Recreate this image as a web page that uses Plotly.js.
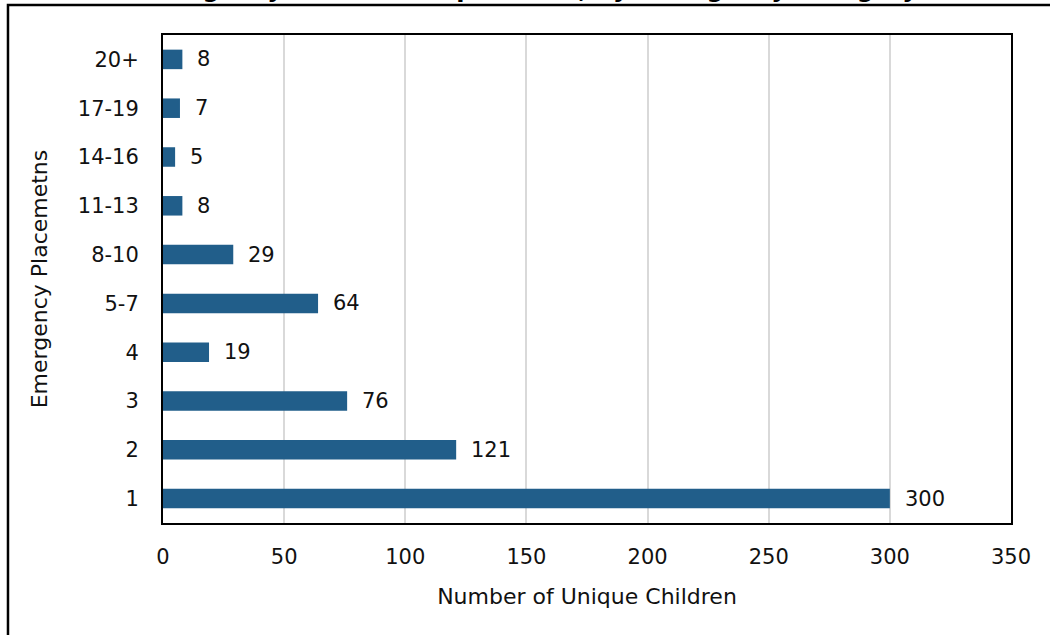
<!DOCTYPE html>
<html>
<head>
<meta charset="utf-8">
<script src="https://cdn.plot.ly/plotly-3.0.1.min.js"></script>
<style>html,body{margin:0;padding:0;background:#fff;}#chart{width:1050px;height:635px;}</style>
</head>
<body>
<div id="chart"></div>
<script>
const categories = ["1", "2", "3", "4", "5-7", "8-10", "11-13", "14-16", "17-19", "20+"];
const counts = [300, 121, 76, 19, 64, 29, 8, 5, 7, 8];
const titleText = "Emergency Placements per Child, by Emergency Category";
const xTitle = "Number of Unique Children";
const yTitle = "Emergency Placemetns";

const FONT = "'DejaVu Sans', 'Noto Sans', sans-serif";

const trace = {
  type: "bar",
  orientation: "h",
  x: counts,
  y: categories,
  marker: {color: "#215e8a"},
  hoverinfo: "none"
};

const labelAnnotations = counts.map((v, i) => ({
  x: v, y: i, xref: "x", yref: "y",
  text: String(v), showarrow: false,
  xanchor: "left", yanchor: "middle", xshift: 13,
  font: {family: FONT, size: 21, color: "#111"}
}));

const titleAnnotation = {
  xref: "paper", yref: "paper", x: 0.427, y: 1.062,
  xanchor: "center", yanchor: "bottom",
  text: "<b>" + titleText + "</b>", showarrow: false,
  font: {family: FONT, size: 24, color: "#000"}
};

const layout = {
  width: 1050,
  height: 635,
  margin: {l: 163, r: 39, t: 35, b: 112},
  paper_bgcolor: "#fff",
  plot_bgcolor: "#fff",
  showlegend: false,
  bargap: 0.6,
  font: {family: FONT, color: "#111"},
  xaxis: {
    range: [0, 350],
    tick0: 0, dtick: 50,
    showgrid: true, gridcolor: "#d9d9d9", gridwidth: 2,
    zeroline: false,
    showline: true, linecolor: "#000", linewidth: 2, mirror: true,
    ticks: "outside", ticklen: 14, tickcolor: "rgba(0,0,0,0)",
    tickfont: {family: FONT, size: 21, color: "#111"},
    title: {text: xTitle, font: {family: FONT, size: 22, color: "#111"}, standoff: 20}
  },
  yaxis: {
    type: "category",
    categoryorder: "array",
    categoryarray: categories,
    showgrid: false,
    zeroline: false,
    showline: true, linecolor: "#000", linewidth: 2, mirror: true,
    ticks: "outside", ticklen: 18, tickcolor: "rgba(0,0,0,0)",
    tickfont: {family: FONT, size: 21, color: "#111"},
    title: {text: yTitle, font: {family: FONT, size: 22, color: "#111"}, standoff: 24}
  },
  annotations: labelAnnotations.concat([titleAnnotation]),
  shapes: [{
    type: "rect", xref: "paper", yref: "paper",
    x0: -0.1828, x1: 1.2, y0: -0.4, y1: 1.0615,
    line: {color: "#000", width: 2.5},
    fillcolor: "rgba(0,0,0,0)",
    layer: "above"
  }]
};

Plotly.newPlot("chart", [trace], layout, {displayModeBar: false, staticPlot: true});
</script>
</body>
</html>
